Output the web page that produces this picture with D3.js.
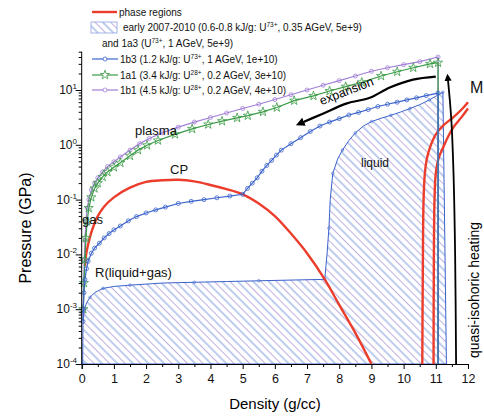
<!DOCTYPE html>
<html>
<head>
<meta charset="utf-8">
<script src="https://cdn.jsdelivr.net/npm/d3@7"></script>
<style>
  body { margin: 0; background: #fff; }
  svg text { font-family: "Liberation Sans", Arial, sans-serif; }
</style>
</head>
<body>
<script>
const w = 484;
const h = 416;

// boundary of the red two-phase (binodal) curve
const binodalX = [0.1, 0.15, 0.25, 0.35, 0.5, 0.7, 1.0, 1.5, 2.0, 2.5, 3.0, 3.5, 4.0, 4.5, 5.0, 5.5, 6.0, 6.5, 7.0, 7.55, 8.0, 8.5, 9.0];
const binodalY = [0.0062, 0.011, 0.02, 0.031, 0.05, 0.075, 0.11, 0.165, 0.21, 0.225, 0.23, 0.215, 0.185, 0.155, 0.125, 0.085, 0.05, 0.024, 0.0105, 0.0035, 0.0012, 0.00037, 0.0001];

// melting lines (red, right)
const meltAX = [10.58, 10.6, 10.62, 10.66, 10.72, 10.82, 11.0, 11.25, 11.55, 11.8, 12.0];
const meltAY = [1e-4, 0.01, 0.1, 0.3, 0.55, 0.9, 1.55, 2.3, 3.2, 4.4, 6.0];
const meltBX = [10.93, 10.94, 10.96, 11.0, 11.1, 11.23, 11.38, 11.55, 11.8, 12.0];
const meltBY = [1e-4, 0.01, 0.1, 0.3, 0.6, 0.9, 1.4, 2.1, 3.2, 4.6];

// hatched region: early 2007-2010 and 1a3
const earlyX = [0.03, 0.04, 0.06, 0.15, 0.26, 0.4, 0.66, 1.0, 1.5, 2.5, 3.5, 4.5, 5.5, 6.5, 7.55, 7.62, 7.68, 7.72, 7.8, 7.95, 8.1, 8.3, 8.5, 8.75, 9.0, 9.3, 9.6, 9.9, 10.2, 10.5, 10.8, 11.0, 11.22, 11.33];
const earlyY = [1e-4, 5e-4, 9e-4, 0.0013, 0.00165, 0.002, 0.0024, 0.0026, 0.00275, 0.003, 0.0031, 0.0032, 0.0033, 0.0034, 0.0035, 0.01, 0.03, 0.1, 0.3, 0.55, 0.8, 1.2, 1.65, 2.2, 2.65, 3.05, 3.45, 3.95, 4.6, 5.4, 6.6, 7.7, 9.1, 1e-4];

// 1b3
const b3X = [0.04, 0.05, 0.07, 0.1, 0.15, 0.2, 0.3, 0.4, 0.55, 0.7, 0.85, 1.0, 1.2, 1.45, 1.7, 2.0, 2.3, 2.6, 3.0, 3.4, 3.8, 4.2, 4.6, 5.0, 5.15, 5.3, 5.45, 5.6, 5.75, 5.9, 6.05, 6.2, 6.5, 6.8, 7.1, 7.4, 7.7, 8.0, 8.3, 8.6, 8.9, 9.2, 9.5, 9.8, 10.1, 10.4, 10.7, 11.07, 11.07];
const b3Y = [6e-4, 0.001, 0.002, 0.0035, 0.0055, 0.0075, 0.0105, 0.013, 0.016, 0.02, 0.024, 0.028, 0.033, 0.041, 0.049, 0.057, 0.065, 0.073, 0.085, 0.093, 0.1, 0.108, 0.116, 0.125, 0.16, 0.2, 0.25, 0.33, 0.42, 0.52, 0.65, 0.8, 1.05, 1.35, 1.75, 2.2, 2.6, 3.0, 3.5, 3.9, 4.4, 5.0, 5.5, 6.0, 6.6, 7.2, 7.9, 8.8, 1e-4];

// 1a1
const a1X = [0.05, 0.07, 0.1, 0.13, 0.17, 0.22, 0.3, 0.4, 0.5, 0.65, 0.8, 1.0, 1.2, 1.5, 1.75, 2.03, 2.37, 2.9, 3.43, 3.93, 4.36, 4.83, 5.16, 5.63, 6.06, 6.6, 7.2, 7.7, 8.2, 8.7, 9.3, 9.8, 10.3, 10.82, 11.07, 11.07];
const a1Y = [0.001, 0.003, 0.008, 0.02, 0.04, 0.07, 0.11, 0.16, 0.2, 0.26, 0.32, 0.39, 0.47, 0.63, 0.8, 0.98, 1.2, 1.55, 1.95, 2.35, 2.7, 3.1, 3.4, 4.0, 4.8, 6.4, 7.8, 9.6, 11.5, 13.8, 18, 21.5, 25.5, 30, 31.5, 1e-4];

// 1b1
const b1X = [0.04, 0.06, 0.08, 0.1, 0.13, 0.17, 0.22, 0.3, 0.4, 0.5, 0.65, 0.8, 1.0, 1.2, 1.5, 1.8, 2.1, 2.5, 3.0, 3.5, 4.0, 4.5, 5.0, 5.5, 6.0, 6.5, 7.0, 7.5, 8.0, 8.5, 9.0, 9.5, 10.0, 10.5, 11.07, 11.07];
const b1Y = [8e-4, 0.003, 0.008, 0.018, 0.04, 0.07, 0.1, 0.15, 0.2, 0.25, 0.32, 0.4, 0.49, 0.6, 0.8, 1.05, 1.3, 1.65, 2.1, 2.6, 3.15, 3.8, 4.6, 5.5, 6.7, 8.2, 10, 12.2, 14.8, 18, 22, 25.5, 29, 33, 40, 1e-4];

// arrows
const expX = [11.0, 10.29, 9.57, 8.95, 8.24, 7.49, 6.78];
const expY = [17.6, 15.5, 11.1, 7.2, 5.7, 3.7, 2.45];
const heatX = [11.63, 11.6, 11.55, 11.48, 11.37];
const heatY = [1e-4, 0.01, 0.3, 3, 17];

const xTicks = d3.range(0, 13);
const yTicks = [1e-4, 1e-3, 1e-2, 1e-1, 1, 10];
const yExp = ['-4', '-3', '-2', '-1', '0', '1'];

const legendLabels = [
  'phase regions',
  'early 2007-2010 (0.6-0.8 kJ/g: U',
  'and 1a3 (U',
  '1b3 (1.2 kJ/g: U',
  '1a1 (3.4 kJ/g: U',
  '1b1 (4.5 kJ/g: U'
];

const red = '#ec3d2c';
const blue = '#3b63cc';
const green = '#3a9a45';
const purple = '#a27fd6';

const svg = d3.select('body').append('svg')
  .attr('width', w).attr('height', h);

const defs = svg.append('defs');
const pat = defs.append('pattern')
  .attr('id', 'hatch')
  .attr('patternUnits', 'userSpaceOnUse')
  .attr('width', 11).attr('height', 11)
  .attr('patternTransform', 'rotate(-45)');
pat.append('line').attr('x1', 2).attr('y1', 0).attr('x2', 2).attr('y2', 11)
  .attr('stroke', '#6f8ddc').attr('stroke-width', 0.9);
pat.append('line').attr('x1', 7.5).attr('y1', 0).attr('x2', 7.5).attr('y2', 11)
  .attr('stroke', '#b9a6dc').attr('stroke-width', 0.9);

const star = d3.symbol().type(d3.symbolStar).size(26);

const x = d3.scaleLinear().domain([0, 12]).range([81.7, 468]);
const y = d3.scaleLog().domain([1e-4, 50]).range([364, 51.7]);

const pts = (xs, ys) => xs.map((v, i) => [v, ys[i]]);
const line = d3.line().x(d => x(d[0])).y(d => y(d[1]));
const smooth = d3.line().x(d => x(d[0])).y(d => y(d[1])).curve(d3.curveCatmullRom.alpha(0.5));

// hatched region
const early = pts(earlyX, earlyY);
svg.append('path')
  .attr('d', line(early) + 'Z')
  .attr('fill', 'url(#hatch)')
  .attr('stroke', blue).attr('stroke-width', 1);
svg.selectAll('.em').data(early.filter((d, i) => i % 2 == 0)).enter()
  .append('circle')
  .attr('cx', d => x(d[0])).attr('cy', d => y(d[1])).attr('r', 1.3)
  .attr('fill', 'none').attr('stroke', blue).attr('stroke-width', 0.6);

// red phase curves
[pts(binodalX, binodalY), pts(meltAX, meltAY), pts(meltBX, meltBY)].forEach(d => {
  svg.append('path').attr('d', smooth(d))
    .attr('fill', 'none').attr('stroke', red).attr('stroke-width', 2.4);
});

// series
function series(xs, ys, color, marker) {
  const d = pts(xs, ys);
  svg.append('path').attr('d', line(d))
    .attr('fill', 'none').attr('stroke', color).attr('stroke-width', 1.2);
  const m = d.slice(0, -1);
  if (marker == 'star') {
    svg.append('g').selectAll('path').data(m).enter().append('path')
      .attr('d', star)
      .attr('transform', p => 'translate(' + x(p[0]) + ',' + y(p[1]) + ')')
      .attr('fill', 'none').attr('stroke', color).attr('stroke-width', 0.8);
  } else {
    svg.append('g').selectAll('circle').data(m).enter().append('circle')
      .attr('cx', p => x(p[0])).attr('cy', p => y(p[1])).attr('r', 2)
      .attr('fill', 'none').attr('stroke', color).attr('stroke-width', 0.8);
  }
}
series(b1X, b1Y, purple, 'circle');
series(a1X, a1Y, green, 'star');
series(b3X, b3Y, blue, 'circle');

// arrows
defs.append('marker').attr('id', 'arr')
  .attr('viewBox', '0 0 10 10').attr('refX', 5).attr('refY', 5)
  .attr('markerWidth', 4).attr('markerHeight', 4).attr('orient', 'auto')
  .append('path').attr('d', 'M0,0 L10,5 L0,10 Z').attr('fill', '#000');
svg.append('path').attr('d', smooth(pts(expX, expY)))
  .attr('fill', 'none').attr('stroke', '#000').attr('stroke-width', 2.2)
  .attr('marker-end', 'url(#arr)');
svg.append('path').attr('d', smooth(pts(heatX, heatY)))
  .attr('fill', 'none').attr('stroke', '#000').attr('stroke-width', 1.8)
  .attr('marker-end', 'url(#arr)');

// axes
const xAxis = d3.axisBottom(x).tickValues(xTicks).tickSize(5).tickPadding(5).tickFormat(d3.format('d'));
const gx = svg.append('g').attr('transform', 'translate(0,364)').call(xAxis);
gx.selectAll('text').attr('font-size', 12.5).attr('fill', '#111');
svg.append('g').attr('transform', 'translate(0,364)')
  .call(d3.axisBottom(x).tickValues(d3.range(0.5, 12, 1)).tickSize(3).tickFormat(''))
  .select('.domain').remove();

const minors = [];
for (let e = -4; e <= 1; e++) for (let k = 2; k <= 9; k++) {
  const v = k * Math.pow(10, e);
  if (v <= 50) minors.push(v);
}
const gy = svg.append('g').attr('transform', 'translate(81.7,0)')
  .call(d3.axisLeft(y).tickValues(yTicks).tickSize(6).tickFormat(''));
gy.select('.domain').attr('d', 'M0,51.7V364');
svg.append('g').attr('transform', 'translate(81.7,0)')
  .call(d3.axisLeft(y).tickValues(minors).tickSize(3).tickFormat(''))
  .select('.domain').remove();

yTicks.forEach((v, i) => {
  const t = svg.append('text').attr('x', 77).attr('y', y(v) + 4)
    .attr('text-anchor', 'end').attr('font-size', 12).attr('fill', '#111');
  t.append('tspan').text('10');
  t.append('tspan').attr('dy', -5).attr('font-size', 8).text(yExp[i]);
});

svg.append('text').attr('x', 275).attr('y', 409).attr('text-anchor', 'middle')
  .attr('font-size', 15).text('Density (g/cc)');
svg.append('text').attr('transform', 'translate(31,228) rotate(-90)')
  .attr('text-anchor', 'middle').attr('font-size', 16).text('Pressure (GPa)');

// annotations
const ann = (tx, ty, s, fs) => svg.append('text').attr('x', tx).attr('y', ty)
  .attr('font-size', fs).attr('fill', '#111').text(s);
ann(135, 135, 'plasma', 13);
ann(170, 174, 'CP', 13);
ann(82, 224, 'gas', 13);
ann(95, 277, 'R(liquid+gas)', 13);
ann(361, 167, 'liquid', 12);
ann(470, 93, 'M', 16);
svg.append('text').attr('transform', 'translate(348,95) rotate(-21)')
  .attr('text-anchor', 'middle').attr('font-size', 12.5).text('expansion');
svg.append('text').attr('transform', 'translate(479,290) rotate(-90)')
  .attr('text-anchor', 'middle').attr('font-size', 14).text('quasi-isohoric heating');

// legend
const lg = svg.append('g');
lg.append('line').attr('x1', 92).attr('x2', 117).attr('y1', 12).attr('y2', 12)
  .attr('stroke', red).attr('stroke-width', 2.4);
lg.append('rect').attr('x', 91).attr('y', 22).attr('width', 26).attr('height', 11)
  .attr('fill', 'url(#hatch)').attr('stroke', '#8fa3e0').attr('stroke-width', 0.8);
const lrows = [
  { y: 59, c: blue, m: 'circle' },
  { y: 75, c: green, m: 'star' },
  { y: 90, c: purple, m: 'circle' }
];
lrows.forEach(r => {
  lg.append('line').attr('x1', 92).attr('x2', 118).attr('y1', r.y).attr('y2', r.y)
    .attr('stroke', r.c).attr('stroke-width', 1.2);
  if (r.m == 'star') {
    lg.append('path').attr('d', star).attr('transform', 'translate(105,' + r.y + ')')
      .attr('fill', '#fff').attr('stroke', r.c).attr('stroke-width', 0.8);
  } else {
    lg.append('circle').attr('cx', 105).attr('cy', r.y).attr('r', 2)
      .attr('fill', '#fff').attr('stroke', r.c).attr('stroke-width', 0.8);
  }
});
function legendText(lx, ly, pre, ion, post) {
  const t = lg.append('text').attr('x', lx).attr('y', ly + 3.5).attr('font-size', 10).attr('fill', '#111');
  t.append('tspan').text(pre);
  if (ion) {
    t.append('tspan').attr('dy', -4).attr('font-size', 6.5).text(ion);
    t.append('tspan').attr('dy', 4).text(post);
  }
}
legendText(119, 12, legendLabels[0]);
legendText(123, 27, legendLabels[1], '73+', ', 0.35 AGeV, 5e+9)');
legendText(102, 43, legendLabels[2], '73+', ', 1 AGeV, 5e+9)');
legendText(120, 59, legendLabels[3], '73+', ', 1 AGeV, 1e+10)');
legendText(120, 75, legendLabels[4], '28+', ',  0.2 AGeV, 3e+10)');
legendText(120, 90, legendLabels[5], '28+', ', 0.2 AGeV, 4e+10)');
</script>
</body>
</html>
